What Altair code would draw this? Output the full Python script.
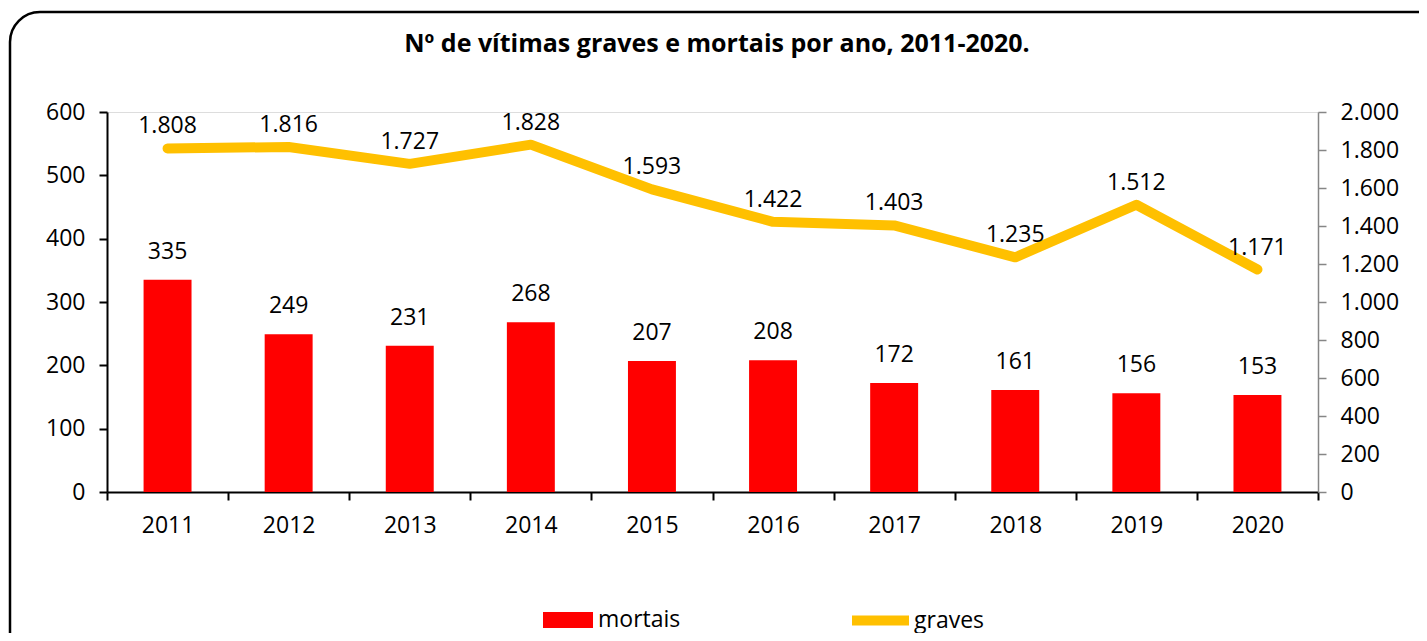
import altair as alt
import pandas as pd

years = ["2011", "2012", "2013", "2014", "2015", "2016", "2017", "2018", "2019", "2020"]
mortais = [335, 249, 231, 268, 207, 208, 172, 161, 156, 153]
graves = [1808, 1816, 1727, 1828, 1593, 1422, 1403, 1235, 1512, 1171]
left_ticks = [0, 100, 200, 300, 400, 500, 600]
right_ticks = [0, 200, 400, 600, 800, 1000, 1200, 1400, 1600, 1800, 2000]
title_text = "Nº de vítimas graves e mortais por ano, 2011-2020."

df = pd.DataFrame({"ano": years, "mortais": mortais, "graves": graves})
df["graves_lbl"] = [f"{v:,}".replace(",", ".") for v in graves]
df["s1"] = "mortais"
df["s2"] = "graves"

FONT = "Open Sans"
FS = 23
W, H = 1211, 380
PL, PT, PR, PB = 99, 104, 101, 141

x = alt.X(
    "ano:N", title=None, sort=years,
    scale=alt.Scale(paddingInner=0, paddingOuter=0),
    axis=alt.Axis(labelAngle=0, tickBand="extent", tickSize=8, tickWidth=2,
                  domainWidth=2, domainColor="black", tickColor="black",
                  labelFontSize=FS, labelFont=FONT, labelColor="black",
                  labelPadding=14, grid=False),
)
yL = alt.Y(
    "mortais:Q", title=None, scale=alt.Scale(domain=[0, 600], nice=False),
    axis=alt.Axis(orient="left", values=left_ticks, tickSize=8, tickWidth=2,
                  domainWidth=2, domainColor="black", tickColor="black",
                  labelFontSize=FS, labelFont=FONT, labelColor="black",
                  labelPadding=14, grid=False),
)
yR = alt.Y(
    "graves:Q", title=None, scale=alt.Scale(domain=[0, 2000], nice=False),
    axis=alt.Axis(orient="right", values=right_ticks, tickSize=8, tickWidth=1.5,
                  domainWidth=1.5, domainColor="#868686", tickColor="#868686",
                  labelFontSize=FS, labelFont=FONT, labelColor="black",
                  labelPadding=14, grid=False,
                  labelExpr="replace(format(datum.value, ','), ',', '.')"),
)

base = alt.Chart(df)
one = pd.DataFrame({"t": [title_text]})

frame = alt.Chart(one).mark_rect(
    filled=False, stroke="black", strokeWidth=2.5, cornerRadius=30
).encode(x=alt.value(-97), x2=alt.value(1340), y=alt.value(-100), y2=alt.value(560))

title = alt.Chart(one).mark_text(
    fontSize=25, font=FONT, fontWeight="bold", color="black", align="center", baseline="middle"
).encode(x=alt.value(610), y=alt.value(-68), text="t:N")

bars = base.mark_bar(width=alt.RelativeBandSize(0.396)).encode(
    x=x, y=yL,
    color=alt.Color("s1:N", scale=alt.Scale(domain=["mortais"], range=["#FF0000"]),
                    legend=alt.Legend(orient="none", legendX=436, legendY=483, title=None,
                                      labelFontSize=FS, labelFont=FONT, labelColor="black",
                                      symbolType="M-1,-0.32H1V0.32H-1Z", symbolSize=2500,
                                      symbolStrokeWidth=0, labelOffset=5, padding=0)),
)
bar_text = base.mark_text(dy=-28, fontSize=FS, font=FONT, color="black").encode(
    x=x, y=yL, text="mortais:Q"
)
line = base.mark_line(strokeWidth=10, strokeCap="round", strokeJoin="round").encode(
    x=x, y=yR,
    stroke=alt.Stroke("s2:N", scale=alt.Scale(domain=["graves"], range=["#FFC000"]),
                      legend=alt.Legend(orient="none", legendX=740, legendY=475, title=None,
                                        labelFontSize=FS, labelFont=FONT, labelColor="black",
                                        symbolType="stroke", symbolSize=3249,
                                        symbolStrokeWidth=10, labelOffset=0, padding=0)),
)
line_text = base.mark_text(dy=-22, fontSize=FS, font=FONT, color="black").encode(
    x=x, y=yR, text="graves_lbl:N"
)

left = alt.layer(bars, bar_text)
right = alt.layer(line, line_text)

chart = alt.layer(frame, title, left, right).resolve_scale(
    y="independent", color="independent", stroke="independent"
).properties(
    width=W, height=H,
    autosize=alt.AutoSizeParams(type="none"),
    padding={"left": PL, "top": PT, "right": PR, "bottom": PB},
).configure_view(stroke=None).configure(background="white")

chart.save("out.html", embed_options={"renderer": "svg", "actions": False})
